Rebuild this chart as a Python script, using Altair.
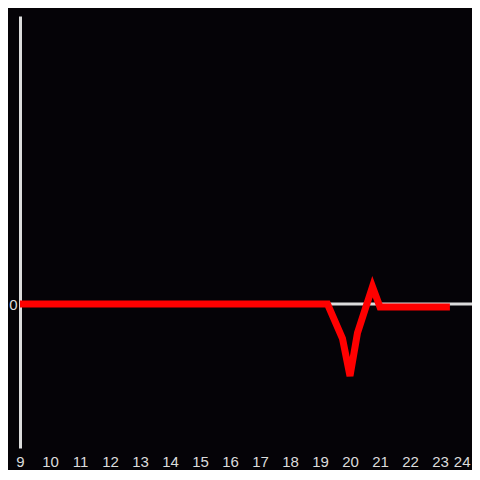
import altair as alt
import pandas as pd

# Data
hours = [9.0, 19.25, 19.75, 20.0, 20.25, 20.75, 21.0, 23.33]
values = [0.0, 0.0, -0.24, -0.5, -0.2, 0.12, -0.02, -0.02]
x_ticks = list(range(9, 25))
y_ticks = [0]

df = pd.DataFrame({"hour": hours, "value": values})

GREY = "#dcdcdc"
BG = "#050307"

x_enc = alt.X(
    "hour:Q",
    scale=alt.Scale(domain=[9, 24.067], nice=False, zero=False),
    axis=alt.Axis(
        values=x_ticks, format="d", domain=False, ticks=False, grid=False, title=None,
        labelColor=GREY, labelFontSize=15, labelFont="Liberation Sans",
        labelPadding=6, labelFlush=False, labelOverlap=False,
        labelAlign=alt.ExprRef(expr="datum.value == 24 ? 'right' : 'center'"),
    ),
)
y_enc = alt.Y(
    "value:Q",
    scale=alt.Scale(domain=[-1, 2], nice=False, zero=False),
    axis=alt.Axis(
        values=y_ticks, format="d", domain=True, domainColor=GREY, domainWidth=3,
        ticks=False, grid=False, title=None,
        labelColor=GREY, labelFontSize=15, labelFont="Liberation Sans",
        labelPadding=3,
    ),
)

zero_rule = alt.Chart(pd.DataFrame({"z": [0]})).mark_rule(
    color=GREY, strokeWidth=3
).encode(y=alt.Y("z:Q", scale=alt.Scale(domain=[-1, 2], nice=False, zero=False)))

line = alt.Chart(df).mark_line(color="#ff0000", strokeWidth=7).encode(
    x=x_enc, y=y_enc
)

chart = (
    alt.layer(zero_rule, line)
    .properties(
        width=452,
        height=432,
        background=BG,
        autosize=alt.AutoSizeParams(type="none"),
        padding={"left": 12, "top": 8, "right": 0, "bottom": 22},
    )
    .configure_view(stroke=None)
)

chart.save("out.html", embed_options={"renderer": "svg", "actions": False})
